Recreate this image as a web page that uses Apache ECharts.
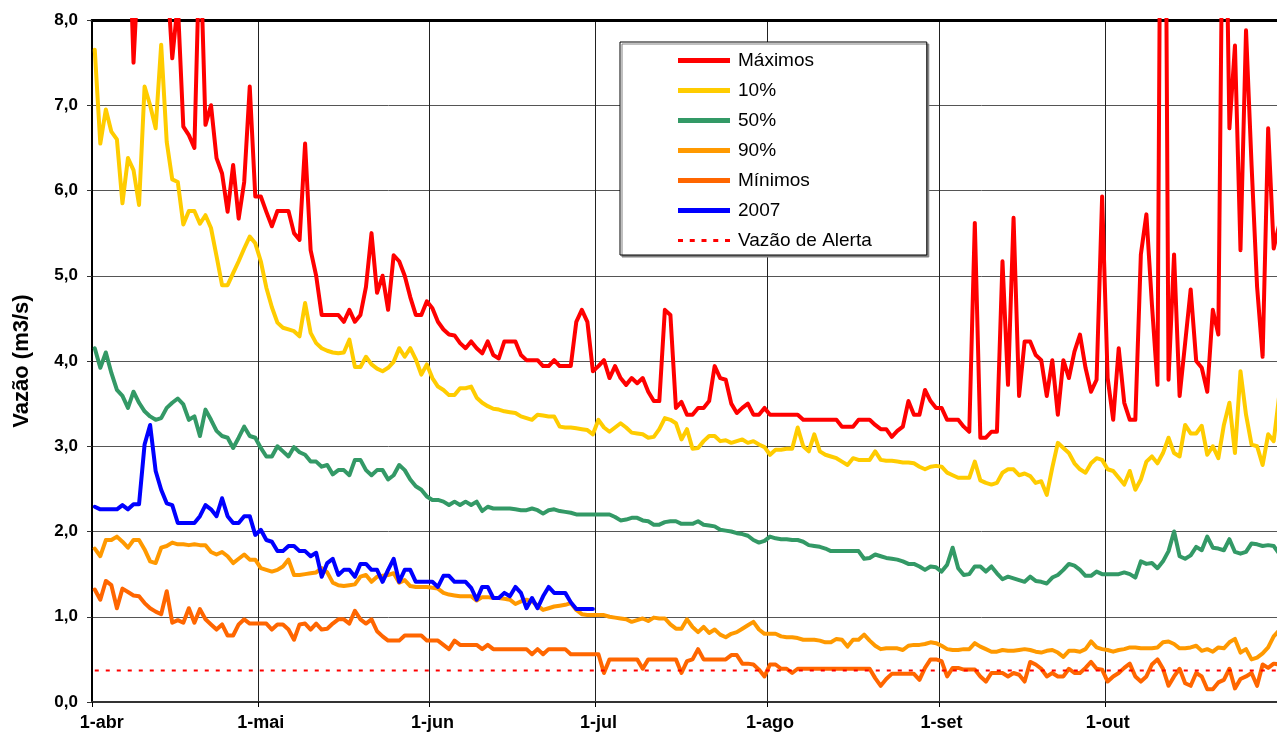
<!DOCTYPE html>
<html><head><meta charset="utf-8">
<script src="https://cdn.jsdelivr.net/npm/echarts@6/dist/echarts.min.js"></script>
<style>html,body{margin:0;padding:0;background:#fff}#c{width:1277px;height:740px}</style>
</head><body><div id="c"></div>
<script>
// ---- categories (one per day, 1-abr .. 1-nov) ----
const months = ['abr','mai','jun','jul','ago','set','out','nov'];
const monthDays = [30,31,30,31,31,30,31,1];
const categories = [];
months.forEach((m,i)=>{ for(let d=1; d<=monthDays[i]; d++) categories.push(d+'-'+m); });
const tickLabels = ['1-abr','1-mai','1-jun','1-jul','1-ago','1-set','1-out'];

// ---- series values (m3/s) ----
const maximos = [
12,11,10.5,11,10,10.5,9.5,7.5,8.8,9.5,
10,9.5,9,8.6,7.55,8.2,6.75,6.65,6.5,9.0,
6.77,7.0,6.38,6.2,5.75,6.3,5.67,6.1,7.22,5.93,
5.93,5.75,5.58,5.76,5.76,5.76,5.5,5.42,6.55,5.3,
5.0,4.54,4.54,4.54,4.54,4.46,4.6,4.46,4.54,4.87,
5.5,4.8,5.0,4.6,5.24,5.17,5.0,4.75,4.54,4.54,
4.7,4.62,4.46,4.37,4.31,4.3,4.21,4.15,4.23,4.15,
4.09,4.23,4.07,4.03,4.23,4.23,4.23,4.07,4.01,4.01,
4.01,3.94,3.94,4.01,3.94,3.94,3.94,4.46,4.6,4.46,
3.88,3.94,4.01,3.8,3.94,3.8,3.72,3.8,3.74,3.8,
3.64,3.53,3.53,4.6,4.54,3.45,3.52,3.37,3.37,3.45,
3.45,3.53,3.94,3.8,3.78,3.5,3.39,3.45,3.5,3.37,
3.37,3.45,3.37,3.37,3.37,3.37,3.37,3.37,3.31,3.31,
3.31,3.31,3.31,3.31,3.31,3.23,3.23,3.23,3.31,3.31,
3.31,3.25,3.2,3.2,3.11,3.18,3.23,3.53,3.37,3.37,
3.66,3.53,3.45,3.45,3.31,3.31,3.31,3.23,3.17,5.62,
3.1,3.1,3.17,3.17,5.17,3.72,5.68,3.59,4.23,4.23,
4.07,4.01,3.59,4.01,3.37,4.01,3.8,4.11,4.31,3.92,
3.64,3.78,5.93,3.8,3.31,4.15,3.51,3.31,3.31,5.25,
5.72,4.66,3.72,15,3.78,5.25,3.59,4.21,4.84,4.0,
3.92,3.64,4.6,4.31,11,6.73,7.7,5.3,7.88,6.3,
4.87,4.05,6.73,5.32,5.6];

const p10 = [
7.65,6.55,6.95,6.69,6.6,5.85,6.38,6.24,5.83,7.22,
7.0,6.73,7.71,6.57,6.13,6.1,5.6,5.76,5.76,5.61,
5.71,5.56,5.23,4.89,4.89,5.03,5.17,5.32,5.46,5.38,
5.17,4.86,4.63,4.45,4.39,4.37,4.35,4.29,4.68,4.33,
4.21,4.15,4.12,4.1,4.09,4.1,4.25,3.93,3.93,4.05,
3.96,3.91,3.88,3.92,3.99,4.15,4.05,4.15,4.02,3.84,
3.96,3.8,3.7,3.66,3.6,3.6,3.68,3.68,3.7,3.57,
3.51,3.47,3.44,3.43,3.41,3.4,3.39,3.35,3.33,3.31,
3.37,3.36,3.35,3.35,3.23,3.22,3.22,3.21,3.2,3.19,
3.14,3.31,3.22,3.17,3.22,3.27,3.22,3.16,3.15,3.14,
3.1,3.11,3.2,3.33,3.31,3.27,3.08,3.2,2.97,2.98,
3.06,3.12,3.12,3.06,3.07,3.04,3.06,3.08,3.04,3.06,
3.02,2.99,2.9,2.96,2.96,2.97,2.97,3.22,3.0,2.94,
3.14,2.94,2.9,2.88,2.86,2.82,2.78,2.86,2.84,2.84,
2.84,2.94,2.84,2.83,2.83,2.82,2.81,2.81,2.8,2.76,
2.73,2.76,2.77,2.76,2.69,2.66,2.63,2.63,2.63,2.82,
2.6,2.57,2.55,2.57,2.69,2.73,2.73,2.66,2.68,2.65,
2.57,2.59,2.43,2.75,3.04,2.98,2.92,2.8,2.73,2.69,
2.8,2.86,2.84,2.73,2.71,2.63,2.55,2.71,2.49,2.61,
2.82,2.88,2.8,2.92,3.1,2.92,2.88,3.25,3.15,3.15,
3.24,2.9,3.0,2.86,3.25,3.51,2.92,3.88,3.37,3.02,
3.0,2.78,3.14,3.06,3.6];

const p50 = [
4.15,3.92,4.1,3.86,3.66,3.59,3.45,3.64,3.51,3.41,
3.35,3.31,3.33,3.45,3.51,3.56,3.49,3.31,3.35,3.12,
3.43,3.31,3.18,3.12,3.1,2.98,3.1,3.23,3.12,3.1,
2.98,2.88,2.88,3.0,2.94,2.88,2.99,2.93,2.9,2.82,
2.82,2.76,2.78,2.67,2.72,2.72,2.66,2.84,2.84,2.72,
2.66,2.72,2.72,2.61,2.66,2.78,2.72,2.61,2.53,2.49,
2.41,2.37,2.37,2.35,2.31,2.35,2.31,2.35,2.31,2.35,
2.24,2.29,2.27,2.27,2.27,2.27,2.26,2.25,2.25,2.27,
2.25,2.21,2.25,2.26,2.24,2.23,2.22,2.2,2.2,2.2,
2.2,2.2,2.2,2.2,2.17,2.13,2.14,2.16,2.16,2.13,
2.12,2.08,2.08,2.11,2.12,2.12,2.09,2.09,2.09,2.12,
2.08,2.07,2.06,2.02,2.01,2.0,1.98,1.97,1.95,1.9,
1.87,1.89,1.94,1.92,1.91,1.91,1.9,1.9,1.88,1.84,
1.83,1.82,1.8,1.77,1.77,1.77,1.77,1.77,1.77,1.68,
1.69,1.73,1.71,1.69,1.68,1.67,1.65,1.62,1.62,1.59,
1.55,1.59,1.58,1.53,1.61,1.81,1.57,1.49,1.5,1.59,
1.59,1.53,1.59,1.51,1.44,1.47,1.45,1.43,1.41,1.47,
1.42,1.41,1.39,1.46,1.49,1.55,1.62,1.6,1.55,1.48,
1.48,1.53,1.5,1.5,1.5,1.5,1.52,1.5,1.46,1.65,
1.62,1.63,1.57,1.65,1.77,2.0,1.71,1.68,1.72,1.82,
1.78,1.94,1.81,1.8,1.78,1.91,1.76,1.74,1.76,1.86,
1.85,1.83,1.84,1.83,1.74];

const p90 = [
1.8,1.71,1.9,1.9,1.94,1.88,1.81,1.9,1.9,1.79,
1.65,1.63,1.81,1.83,1.87,1.85,1.85,1.84,1.85,1.84,
1.84,1.76,1.73,1.76,1.71,1.63,1.68,1.73,1.67,1.67,
1.57,1.55,1.53,1.55,1.59,1.67,1.49,1.49,1.5,1.51,
1.52,1.57,1.52,1.4,1.37,1.36,1.37,1.38,1.47,1.49,
1.41,1.47,1.48,1.49,1.51,1.4,1.43,1.36,1.35,1.35,
1.35,1.34,1.33,1.28,1.26,1.25,1.24,1.24,1.24,1.19,
1.23,1.23,1.22,1.22,1.21,1.2,1.15,1.18,1.2,1.18,
1.13,1.08,1.1,1.12,1.13,1.14,1.16,1.08,1.03,1.02,
1.02,1.02,1.02,1.0,0.99,0.98,0.97,0.94,0.96,0.98,
0.95,0.99,0.98,0.98,0.91,0.86,0.86,0.97,0.88,0.82,
0.88,0.81,0.85,0.79,0.76,0.8,0.82,0.86,0.9,0.94,
0.85,0.8,0.8,0.8,0.77,0.76,0.76,0.75,0.73,0.73,
0.73,0.72,0.7,0.7,0.74,0.73,0.65,0.73,0.73,0.79,
0.72,0.66,0.62,0.63,0.63,0.63,0.61,0.66,0.67,0.67,
0.68,0.7,0.69,0.66,0.62,0.61,0.61,0.62,0.62,0.69,
0.65,0.62,0.59,0.59,0.61,0.6,0.6,0.61,0.62,0.61,
0.59,0.58,0.6,0.61,0.58,0.53,0.6,0.6,0.59,0.62,
0.71,0.64,0.62,0.61,0.59,0.61,0.62,0.64,0.64,0.63,
0.63,0.63,0.64,0.7,0.71,0.68,0.63,0.63,0.64,0.66,
0.6,0.62,0.59,0.64,0.63,0.7,0.74,0.58,0.62,0.5,
0.52,0.57,0.64,0.77,0.84];

const minimos = [
1.32,1.2,1.42,1.37,1.1,1.33,1.29,1.25,1.24,1.16,
1.1,1.06,1.03,1.3,0.93,0.96,0.93,1.1,0.93,1.09,
0.97,0.91,0.85,0.91,0.78,0.78,0.91,0.97,0.92,0.92,
0.92,0.92,0.85,0.91,0.91,0.85,0.73,0.91,0.92,0.85,
0.92,0.85,0.86,0.92,0.97,0.97,0.92,1.07,0.97,0.92,
0.97,0.83,0.77,0.72,0.72,0.72,0.78,0.78,0.78,0.78,
0.72,0.72,0.72,0.67,0.62,0.72,0.67,0.67,0.67,0.67,
0.62,0.67,0.62,0.62,0.62,0.62,0.62,0.62,0.62,0.56,
0.62,0.56,0.62,0.62,0.62,0.62,0.56,0.56,0.56,0.56,
0.56,0.56,0.34,0.5,0.5,0.5,0.5,0.5,0.5,0.39,
0.5,0.5,0.5,0.5,0.5,0.5,0.34,0.48,0.5,0.62,
0.5,0.5,0.5,0.5,0.5,0.55,0.55,0.45,0.45,0.44,
0.38,0.3,0.44,0.44,0.39,0.39,0.34,0.39,0.39,0.39,
0.39,0.39,0.39,0.39,0.39,0.39,0.39,0.39,0.39,0.39,
0.39,0.28,0.19,0.27,0.33,0.33,0.33,0.33,0.33,0.26,
0.4,0.5,0.5,0.48,0.3,0.4,0.4,0.38,0.38,0.38,
0.3,0.24,0.34,0.34,0.34,0.3,0.34,0.32,0.24,0.47,
0.44,0.39,0.3,0.34,0.3,0.3,0.39,0.34,0.34,0.4,
0.47,0.39,0.38,0.24,0.3,0.34,0.4,0.45,0.3,0.24,
0.3,0.44,0.5,0.39,0.19,0.3,0.39,0.22,0.19,0.34,
0.3,0.15,0.15,0.23,0.26,0.39,0.16,0.27,0.3,0.34,
0.19,0.44,0.4,0.45,0.44];

const y2007 = [
2.29,2.26,2.26,2.26,2.26,2.31,2.26,2.32,2.32,3.02,
3.25,2.71,2.49,2.33,2.31,2.1,2.1,2.1,2.1,2.18,
2.31,2.26,2.18,2.39,2.18,2.1,2.1,2.18,2.18,1.96,
2.02,1.9,1.88,1.77,1.77,1.83,1.83,1.77,1.77,1.71,
1.75,1.47,1.63,1.68,1.49,1.55,1.55,1.47,1.62,1.62,
1.55,1.55,1.41,1.55,1.68,1.41,1.55,1.55,1.41,1.41,
1.41,1.41,1.35,1.48,1.48,1.41,1.41,1.41,1.34,1.2,
1.35,1.35,1.22,1.22,1.28,1.24,1.35,1.28,1.1,1.22,
1.1,1.24,1.35,1.28,1.28,1.28,1.17,1.09,1.09,1.09,
1.09];

const alertFlow = 0.37;   // Vazão de Alerta
const yTicks = {min:0, max:8, interval:1};

// ---- chart ----
const FONT = '"Liberation Sans", Arial, sans-serif';
const solidIcon = 'path://M0,0H52V5H0Z';
const dashIcon = 'path://M0,0H5V3H0Z M11.75,0H16.75V3H11.75Z M23.5,0H28.5V3H23.5Z M35.25,0H40.25V3H35.25Z M47,0H52V3H47Z';
const isMonthStart = (i, v) => tickLabels.indexOf(v) >= 0;

function lineSeries(name, data, color, width) {
  return {
    name, type:'line', data, symbol:'none', showSymbol:false, smooth:false,
    clip:true, color,
    lineStyle:{color, width, join:'round', cap:'round'},
    emphasis:{disabled:true}, silent:true
  };
}

const xLabelStyle = {color:'#000', fontWeight:'bold', fontSize:18, fontFamily:FONT};

const chart = echarts.init(document.getElementById('c'), null, {renderer:'canvas'});
chart.setOption({
  animation:false,
  backgroundColor:'#fff',
  grid:{left:92, top:20, bottom:38, width:1190, containLabel:false, outerBoundsMode:'none'},
  legend:{
    orient:'vertical', left:620, top:42,
    padding:[9,55,5,58],
    itemWidth:52, itemHeight:18, itemGap:11,
    backgroundColor:'#fff', borderColor:'#000', borderWidth:1,
    shadowColor:'#808080', shadowOffsetX:2, shadowOffsetY:2, shadowBlur:0,
    selectedMode:false,
    textStyle:{fontSize:19, color:'#000', fontFamily:FONT, padding:[0,0,0,3]},
    data:[
      {name:'Máximos', icon:solidIcon},
      {name:'10%', icon:solidIcon},
      {name:'50%', icon:solidIcon},
      {name:'90%', icon:solidIcon},
      {name:'Mínimos', icon:solidIcon},
      {name:'2007', icon:solidIcon},
      {name:'Vazão de Alerta', icon:dashIcon}
    ]
  },
  xAxis:[{
    type:'category', data:categories, boundaryGap:true,
    axisLine:{show:true, lineStyle:{color:'#333', width:2}},
    axisTick:{show:true, interval:isMonthStart, length:5, lineStyle:{color:'#000', width:1}},
    axisLabel:Object.assign({interval:isMonthStart, margin:12,
      formatter:v => v === tickLabels[0] ? '{first|' + v + '}' : v,
      rich:{first:Object.assign({padding:[0,0,0,14]}, xLabelStyle)}}, xLabelStyle),
    splitLine:{show:true, interval:isMonthStart, lineStyle:{color:'#222', width:1}}
  },{
    type:'category', data:categories, boundaryGap:true, position:'top',
    axisLine:{show:true, lineStyle:{color:'#000', width:3}},
    axisTick:{show:false}, axisLabel:{show:false}, splitLine:{show:false}
  }],
  yAxis:{
    type:'value', min:yTicks.min, max:yTicks.max, interval:yTicks.interval,
    name:'Vazão (m3/s)', nameLocation:'middle', nameGap:59, nameRotate:90,
    nameTextStyle:{fontWeight:'bold', fontSize:22, color:'#000', fontFamily:FONT},
    axisLine:{show:true, lineStyle:{color:'#000', width:2}},
    axisTick:{show:true, length:5, lineStyle:{color:'#333'}},
    axisLabel:{margin:14, color:'#000', fontWeight:'bold', fontSize:17, fontFamily:FONT,
      formatter:v => v.toFixed(1).replace('.', ',')},
    splitLine:{show:true, lineStyle:{color:'#555', width:1}}
  },
  series:[
    lineSeries('Máximos', maximos, '#FF0000', 4),
    lineSeries('10%', p10, '#FFCC00', 4),
    lineSeries('50%', p50, '#339966', 4),
    lineSeries('90%', p90, '#FF9900', 4),
    lineSeries('Mínimos', minimos, '#FF6600', 4),
    lineSeries('2007', y2007, '#0000FF', 4),
    Object.assign(lineSeries('Vazão de Alerta', categories.map(() => alertFlow), '#FF0000', 2),
      {lineStyle:{color:'#FF0000', width:2, type:[4,7]}})
  ]
});
</script></body></html>
